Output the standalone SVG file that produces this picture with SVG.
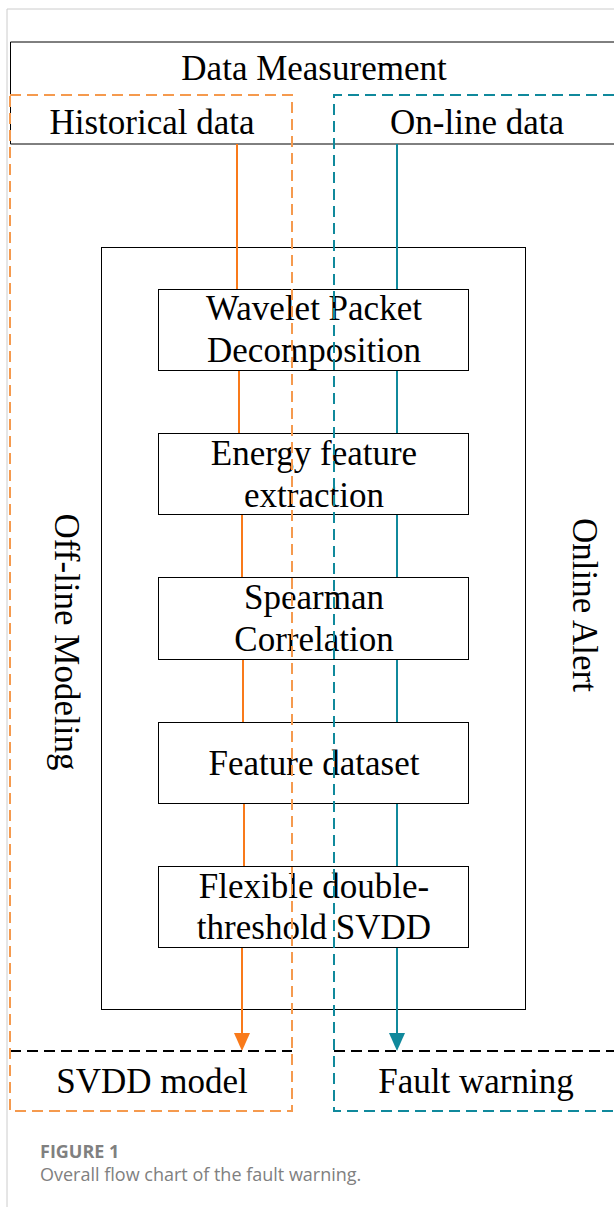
<svg xmlns="http://www.w3.org/2000/svg" width="614" height="1207" viewBox="0 0 614 1207">
<style>
.t{font-family:"Liberation Serif","Times New Roman",serif;font-size:35px;fill:#000;text-anchor:middle}
.box{fill:#fff;stroke:#000;stroke-width:1}
.or{stroke:#f97a1a;stroke-width:2;fill:none}
.te{stroke:#10899c;stroke-width:2;fill:none}
.dor{stroke:#f59a4e;stroke-width:2;fill:none;stroke-dasharray:11 6}
.dte{stroke:#10899c;stroke-width:2;fill:none;stroke-dasharray:11 6}
.dbk{stroke:#000;stroke-width:2;fill:none;stroke-dasharray:11 6}
.cap{font-family:"Open Sans","Noto Sans",sans-serif;fill:#808080}
</style>
<rect width="614" height="1207" fill="#fff"/>
<path d="M7,1207 V9 H614" fill="none" stroke="#cccccc" stroke-width="1"/>

<g id="header">
<path d="M614,42 H10.5 V144 H614" fill="none" stroke="#000" stroke-width="1"/>
<text class="t" x="314" y="80">Data Measurement</text>
<text class="t" x="152" y="134">Historical data</text>
<text class="t" x="477" y="134">On-line data</text>
</g>

<g id="inner">
<rect x="101.5" y="247.5" width="424" height="762" fill="none" stroke="#000" stroke-width="1"/>
</g>

<g id="connectors">
<line class="or" x1="237" y1="144" x2="237" y2="289"/>
<line class="or" x1="239" y1="370" x2="239" y2="433"/>
<line class="or" x1="242" y1="514" x2="242" y2="577"/>
<line class="or" x1="243" y1="659" x2="243" y2="722"/>
<line class="or" x1="244" y1="803" x2="244" y2="866"/>
<line class="or" x1="242" y1="947" x2="242" y2="1036"/>
<path d="M234,1033 L250,1033 L242,1051 Z" fill="#f97a1a"/>
<line class="te" x1="397" y1="144" x2="397" y2="289"/>
<line class="te" x1="397" y1="370" x2="397" y2="433"/>
<line class="te" x1="397" y1="514" x2="397" y2="577"/>
<line class="te" x1="397" y1="659" x2="397" y2="722"/>
<line class="te" x1="397" y1="803" x2="397" y2="866"/>
<line class="te" x1="397" y1="947" x2="397" y2="1036"/>
<path d="M389,1033 L405,1033 L397,1051 Z" fill="#10899c"/>
</g>

<g id="n1"><rect class="box" x="158.5" y="289.5" width="310" height="81"/>
<text class="t" x="314" y="320">Wavelet Packet</text><text class="t" x="314" y="362">Decomposition</text></g>
<g id="n2"><rect class="box" x="158.5" y="433.5" width="310" height="81"/>
<text class="t" x="314" y="465">Energy feature</text><text class="t" x="314" y="507">extraction</text></g>
<g id="n3"><rect class="box" x="158.5" y="577.5" width="310" height="82"/>
<text class="t" x="314" y="609">Spearman</text><text class="t" x="314" y="651">Correlation</text></g>
<g id="n4"><rect class="box" x="158.5" y="722.5" width="310" height="81"/>
<text class="t" x="314" y="775">Feature dataset</text></g>
<g id="n5"><rect class="box" x="158.5" y="866.5" width="310" height="81"/>
<text class="t" x="314" y="898">Flexible double-</text><text class="t" x="314" y="939">threshold SVDD</text></g>

<g id="svdd">
<path class="dbk" d="M10,1051 H292"/>
<text class="t" x="152" y="1093">SVDD model</text>
</g>
<g id="fault">
<path class="dbk" d="M334,1051 H614"/>
<text class="t" x="476" y="1093">Fault warning</text>
</g>

<g id="offline">
<rect class="dor" x="10" y="95" width="282" height="1016"/>
<text class="t" transform="translate(67,642) rotate(90)" y="12">Off-line Modeling</text>
</g>
<g id="online">
<path class="dte" d="M614,95 H334 V1111 H614"/>
<text class="t" transform="translate(585,605) rotate(90)" y="12">Online Alert</text>
</g>

<text class="cap" x="40" y="1158" font-size="18" font-weight="bold" fill="#777">FIGURE 1</text>
<text class="cap" x="40" y="1181" font-size="18">Overall flow chart of the fault warning.</text>
</svg>
